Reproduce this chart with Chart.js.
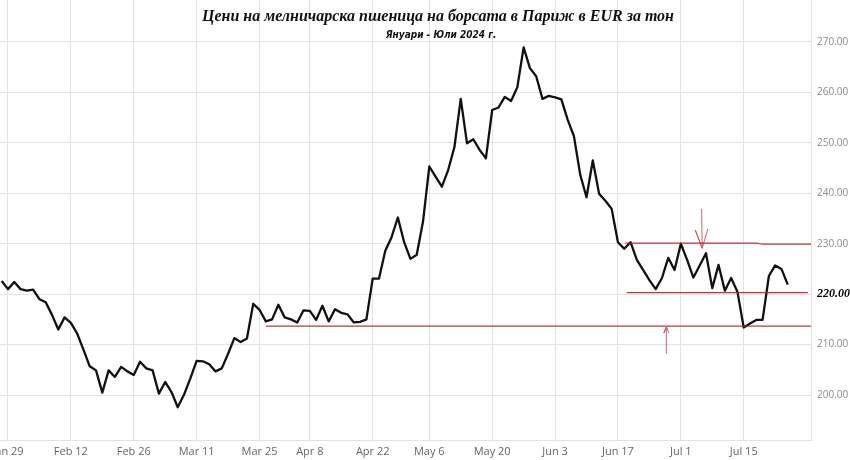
<!DOCTYPE html>
<html>
<head>
<meta charset="utf-8">
<script src="https://cdn.jsdelivr.net/npm/chart.js@4.4.1/dist/chart.umd.min.js"></script>
<style>
  body { margin: 0; background: #fff; }
  canvas { display: block; }
</style>
</head>
<body>
<canvas id="wheatChart" width="850" height="460"></canvas>
<script>
// trading days on Euronext, Jan 26 - Jul 24 2024 (closed Mar 29, Apr 1, May 1)
const firstDay = '2024-01-26';
const lastDay = '2024-07-24';
const closedDays = ['2024-03-29', '2024-04-01', '2024-05-01'];

// closing price, EUR/t, one per trading day
const prices = [
  222.6, 221.0, 222.4, 221.0, 220.7, 220.9, 219.0, 218.4, 215.9, 213.0,
  215.4, 214.3, 212.2, 209.0, 205.7, 204.9, 200.5, 204.9, 203.6, 205.6,
  204.7, 204.0, 206.6, 205.3, 204.9, 200.3, 202.6, 200.6, 197.6, 200.1,
  203.3, 206.8, 206.7, 206.1, 204.7, 205.3, 208.2, 211.3, 210.5, 211.2,
  218.1, 216.9, 214.6, 215.0, 217.9, 215.4, 215.0, 214.4, 216.8, 216.7,
  214.9, 217.7, 214.6, 217.0, 216.3, 216.0, 214.4, 214.5, 215.0, 223.1,
  223.1, 228.6, 231.3, 235.2, 230.3, 227.0, 227.8, 234.4, 245.3, 243.3,
  241.3, 244.6, 249.2, 258.7, 249.9, 250.7, 248.6, 246.9, 256.5, 257.0,
  259.1, 258.3, 261.0, 268.9, 264.8, 263.2, 258.7, 259.3, 259.0, 258.6,
  254.6, 251.3, 243.7, 239.2, 246.5, 239.9, 238.5, 236.9, 230.3, 229.0,
  230.3, 226.8, 224.8, 222.8, 221.0, 223.2, 227.2, 224.8, 230.0, 226.8,
  223.3, 225.7, 228.1, 221.2, 225.8, 220.7, 223.2, 220.5, 213.4, 214.2,
  214.9, 214.9, 223.6, 225.7, 225.0, 221.9
];

const tickDates = ['2024-01-29','2024-02-12','2024-02-26','2024-03-11','2024-03-25','2024-04-08',
  '2024-04-22','2024-05-06','2024-05-20','2024-06-03','2024-06-17','2024-07-01','2024-07-15'];
const tickLabels = ['Jan 29','Feb 12','Feb 26','Mar 11','Mar 25','Apr 8',
  'Apr 22','May 6','May 20','Jun 3','Jun 17','Jul 1','Jul 15'];
const priceTicks = [200, 210, 220, 230, 240, 250, 260, 270];

// hand drawn marks: [trading day index, price]
const supportLine = [[42, 213.65], [130, 213.65]];
const resistLine = [[99.2, 230.1], [120, 230.1], [121, 229.9], [130, 229.9]];
const middleLine = [[99.4, 220.3], [128.2, 220.3]];
const downArrow = [[111.3, 236.9], [111.4, 229.1], [110.3, 232.7], [111.4, 229.1], [112.3, 233.0]];
const upArrow = [[105.7, 208.2], [105.7, 213.5], [105.3, 212.3], [105.7, 213.5], [106.1, 212.3]];

const title = 'Цени на мелничарска пшеница на борсата в Париж в EUR за тон';
const subtitle = 'Януари - Юли 2024 г.';

function tradingDays() {
    let out = [];
    let d = new Date(firstDay + 'T12:00:00Z');
    let end = new Date(lastDay + 'T12:00:00Z');
    while (d <= end) {
        let key = d.toISOString().slice(0, 10);
        let wd = d.getUTCDay();
        if (wd != 0 && wd != 6 && closedDays.indexOf(key) < 0) out.push(key);
        d.setUTCDate(d.getUTCDate() + 1);
    }
    return out;
}

let days = tradingDays();
let tickIndex = tickDates.map(t => days.indexOf(t));

function toPoints(arr) {
    return arr.map(p => ({x: p[0], y: p[1]}));
}

let priceData = prices.map((v, i) => ({x: i, y: v}));

const redLine = 'rgba(185,30,45,0.9)';
const redArrow = 'rgba(205,70,85,0.85)';

function mark(points, color, width) {
    return {
        data: toPoints(points),
        borderColor: color,
        borderWidth: width,
        pointRadius: 0,
        tension: 0,
        fill: false
    };
}

const titlePlugin = {
    id: 'titleText',
    afterDraw(chart) {
        let ctx = chart.ctx;
        ctx.save();
        ctx.fillStyle = '#111';
        ctx.textAlign = 'center';
        ctx.textBaseline = 'middle';
        ctx.font = 'italic bold 16px "Liberation Serif"';
        ctx.fillText(title, 438, 17);
        ctx.font = 'italic bold 10px "DejaVu Sans Condensed", "Liberation Sans"';
        ctx.fillText(subtitle, 441, 35);
        ctx.restore();
    }
};

let chart = new Chart(document.getElementById('wheatChart'), {
    type: 'line',
    data: {
        datasets: [
            mark(supportLine, redLine, 1.2),
            mark(resistLine, redLine, 1.2),
            mark(middleLine, redLine, 1.2),
            mark(downArrow, redArrow, 1),
            mark(upArrow, redArrow, 1),
            {
                data: priceData,
                borderColor: '#111',
                borderWidth: 2.3,
                pointRadius: 0,
                tension: 0,
                borderJoinStyle: 'round',
                fill: false
            }
        ]
    },
    options: {
        responsive: false,
        animation: false,
        devicePixelRatio: 1,
        layout: {padding: 0},
        plugins: {
            legend: {display: false},
            tooltip: {enabled: false}
        },
        scales: {
            x: {
                type: 'linear',
                min: -0.27,
                max: 128.7,
                afterBuildTicks: s => { s.ticks = tickIndex.map(v => ({value: v})); },
                afterFit: s => { s.height = 20; s.paddingLeft = 0; s.paddingRight = 0; },
                ticks: {
                    autoSkip: false,
                    maxRotation: 0,
                    padding: 5,
                    color: '#666',
                    font: {family: 'Open Sans', size: 11},
                    callback: v => tickLabels[tickIndex.indexOf(v)]
                },
                grid: {color: '#e2e2e2', drawTicks: false},
                border: {display: true, color: '#e2e2e2'}
            },
            y: {
                position: 'right',
                min: 191.1,
                max: 278.3,
                afterBuildTicks: s => { s.ticks = priceTicks.map(v => ({value: v})); },
                afterFit: s => { s.width = 39; s.paddingTop = 0; s.paddingBottom = 0; },
                ticks: {
                    padding: 6,
                    color: c => c.tick && c.tick.value == 220 ? '#000' : '#8a8a8a',
                    font: c => c.tick && c.tick.value == 220
                        ? {family: 'Liberation Serif', size: 12, style: 'italic', weight: 'bold'}
                        : {family: 'Open Sans', size: 10},
                    callback: v => v.toFixed(2)
                },
                grid: {color: '#e2e2e2', drawTicks: false},
                border: {display: true, color: '#e2e2e2'}
            }
        }
    },
    plugins: [titlePlugin]
});
</script>
</body>
</html>
